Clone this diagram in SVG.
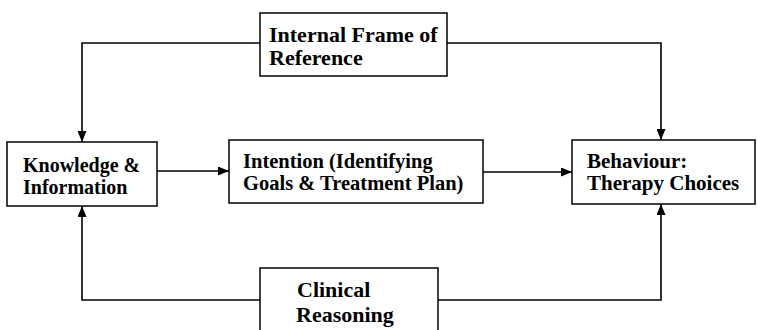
<svg xmlns="http://www.w3.org/2000/svg" width="757" height="330" viewBox="0 0 757 330">
<style>
.box{fill:#fff;stroke:#000;stroke-width:1.5}
.t{font-family:"Liberation Serif","Times New Roman",serif;font-weight:bold;fill:#000}
.c{fill:none;stroke:#000;stroke-width:1.6}
</style>
<defs>
<marker id="ah" viewBox="0 0 11 9" refX="11" refY="4.5" markerWidth="11" markerHeight="9" markerUnits="userSpaceOnUse" orient="auto">
<path d="M0,0 L11,4.5 L0,9 Z" fill="#000"/>
</marker>
</defs>
<rect width="757" height="330" fill="#fff"/>
<g id="connectors">
<polyline class="c" points="260,43 82,43 82,142" marker-end="url(#ah)"/>
<polyline class="c" points="447,43 661,43 661,140" marker-end="url(#ah)"/>
<line class="c" x1="157" y1="171" x2="229" y2="171" marker-end="url(#ah)"/>
<line class="c" x1="483" y1="172" x2="572" y2="172" stroke-width="2" marker-end="url(#ah)"/>
<polyline class="c" points="260,300 82,300 82,206" marker-end="url(#ah)"/>
<polyline class="c" points="438,300 661,300 661,204" marker-end="url(#ah)"/>
</g>
<g id="internal">
<rect class="box" x="260" y="13" width="187" height="63"/>
<text class="t" font-size="22" x="269" y="42">Internal Frame of</text>
<text class="t" font-size="22" x="269" y="65">Reference</text>
</g>
<g id="knowledge">
<rect class="box" x="7" y="142" width="150" height="64"/>
<text class="t" font-size="20" x="23" y="172">Knowledge &amp;</text>
<text class="t" font-size="20" x="23" y="194">Information</text>
</g>
<g id="intention">
<rect class="box" x="229" y="140" width="254" height="63"/>
<text class="t" font-size="20.5" x="243" y="168">Intention (Identifying</text>
<text class="t" font-size="20.5" x="243" y="190">Goals &amp; Treatment Plan)</text>
</g>
<g id="behaviour">
<rect class="box" x="572" y="140" width="183" height="64"/>
<text class="t" font-size="21" x="587" y="168">Behaviour:</text>
<text class="t" font-size="21" x="587" y="190">Therapy Choices</text>
</g>
<g id="clinical">
<rect class="box" x="260" y="268" width="178" height="70"/>
<text class="t" font-size="22" x="297" y="297">Clinical</text>
<text class="t" font-size="22" x="296" y="322">Reasoning</text>
</g>
</svg>
